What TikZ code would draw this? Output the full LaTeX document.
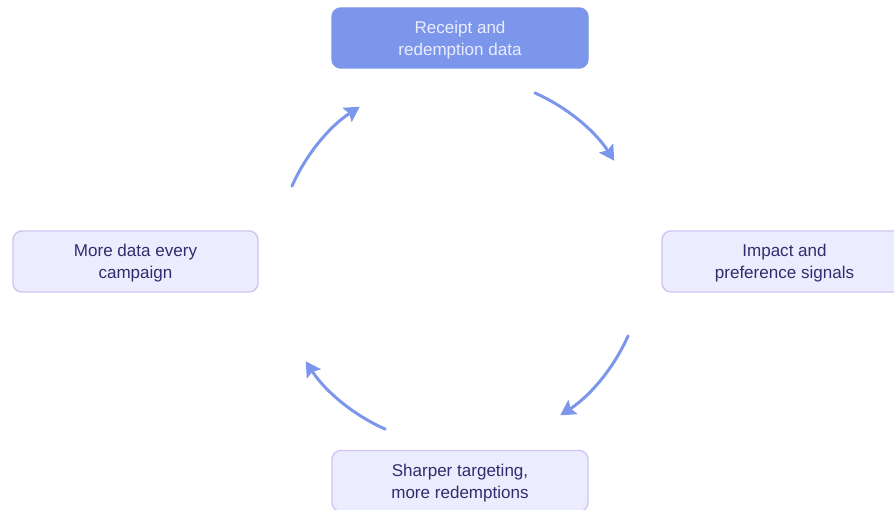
\documentclass[tikz,border=0pt]{standalone}
\usepackage{fontspec}
\setmainfont{Liberation Sans}
\usepackage{tikz}
\usetikzlibrary{positioning,arrows.meta}
\usepackage{xcolor}
\definecolor{loopblue}{HTML}{7B96EA}
\definecolor{stagefill}{HTML}{ECECFF}
\definecolor{stageline}{HTML}{CFC4F4}
\definecolor{stagetext}{HTML}{312D6C}

\begin{document}
\begin{tikzpicture}[>={Stealth[length=3mm,width=3.3mm,inset=0.5mm]},
  stage/.style={draw=stageline,line width=0.8pt,rounded corners=5pt,fill=stagefill,text=stagetext,
    minimum width=4.9cm,minimum height=1.22cm,align=center,text depth=0pt,font=\fontsize{9.7}{12.6}\selectfont},
  start/.style={stage,fill=loopblue,draw=loopblue,text=stagefill,minimum width=5.12cm,minimum height=1.2cm},
  cyc/.style={->,loopblue,line width=1.7pt,line cap=round}]
\useasboundingbox (0,0) rectangle (17.88,-10.2);
\coordinate (hub) at (9.2,-5.22);
\node[start] (data) at (9.2,-0.76) {Receipt and\\redemption data};
\node[stage] (signals) at (15.69,-5.23) {Impact and\\preference signals};
\node[stage,minimum width=5.12cm] (target) at (9.2,-9.62) {Sharper targeting,\\more redemptions};
\node[stage] (more) at (2.71,-5.23) {More data every\\campaign};
% arcs around the hub, clockwise
\draw[cyc] ([shift={(66:3.68)}]hub) arc[start angle=66,end angle=33,radius=3.68];
\draw[cyc] ([shift={(-24:3.68)}]hub) arc[start angle=-24,end angle=-57,radius=3.68];
\draw[cyc] ([shift={(-114:3.68)}]hub) arc[start angle=-114,end angle=-147,radius=3.68];
\draw[cyc] ([shift={(156:3.68)}]hub) arc[start angle=156,end angle=123,radius=3.68];
\end{tikzpicture}
\end{document}
